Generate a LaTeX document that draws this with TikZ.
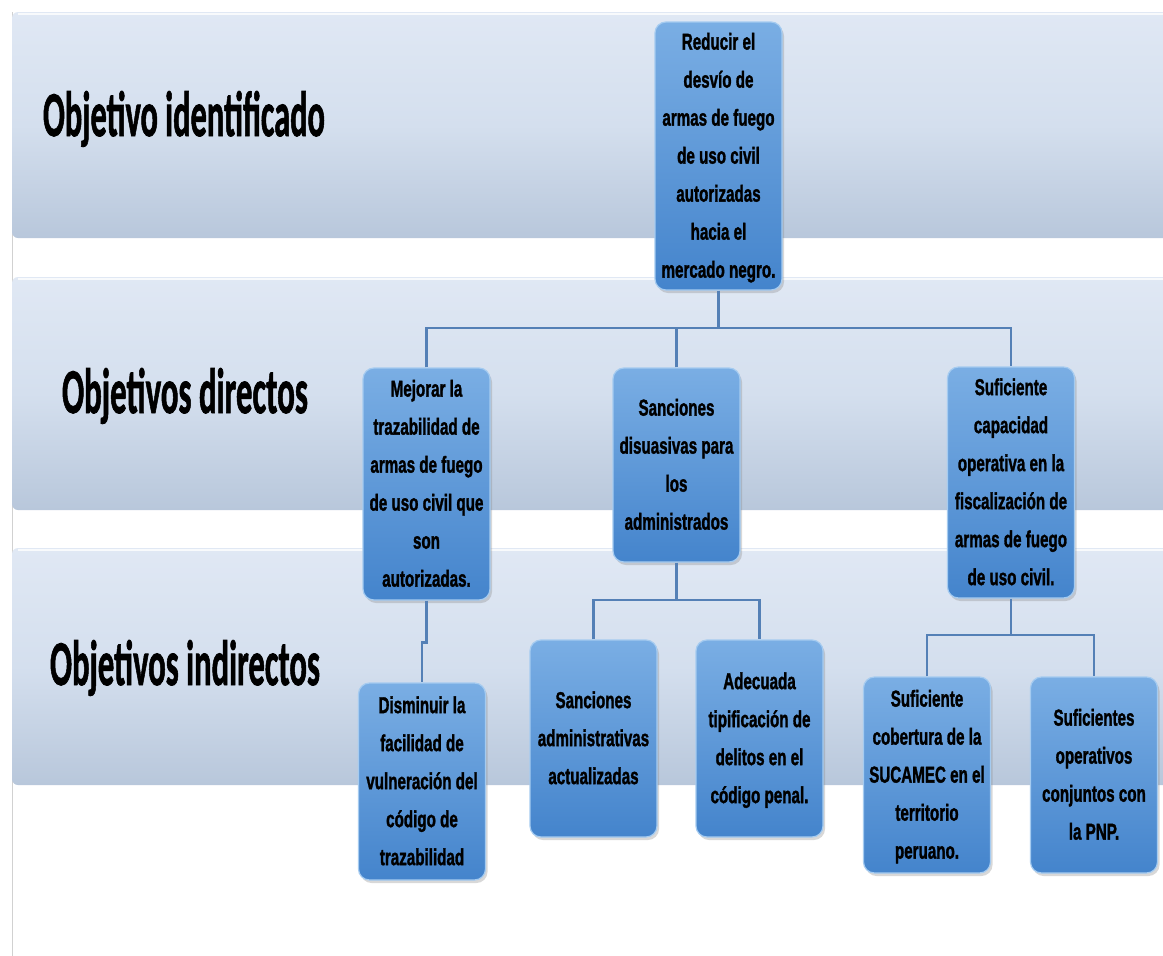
\documentclass[tikz,border=0pt]{standalone}
\usepackage{fontspec}
\usepackage{graphicx}
\usetikzlibrary{shadows,calc}
\newfontfamily\lblfont{Carlito}[BoldFeatures={FakeBold=1.5}]
\newfontfamily\boxfont{Liberation Sans}[BoldFeatures={FakeBold=1.8}]
\definecolor{bandtop}{RGB}{224,232,244}
\definecolor{bandmid}{RGB}{212,223,238}
\definecolor{bandbot}{RGB}{184,199,219}
\definecolor{boxtop}{RGB}{122,174,228}
\definecolor{boxbot}{RGB}{68,132,204}
\definecolor{boxedge}{RGB}{165,203,240}
\definecolor{conncol}{RGB}{84,128,182}
\newcommand{\bt}[1]{\scalebox{0.66}[1]{\boxfont\bfseries\fontsize{23}{38}\selectfont\begin{tabular}{@{}c@{}}#1\end{tabular}}}
\newcommand{\lbl}[2]{\resizebox{#1}{\height}{\lblfont\bfseries\fontsize{64}{64}\selectfont #2}}
\tikzset{
  objbox/.style={draw=boxedge, line width=1.2pt, rounded corners=11pt,
    top color=boxtop, bottom color=boxbot, inner sep=0pt,
    minimum width=127pt, text=black,
    drop shadow={opacity=0.3, shadow xshift=2pt, shadow yshift=-3pt}},
  band/.style={rounded corners=6pt, top color=bandtop, bottom color=bandbot, middle color=bandmid},
  conn/.style={draw=conncol, line width=2.5pt},
  lbltext/.style={anchor=base, inner sep=0pt, text=black}
}
\begin{document}
\begin{tikzpicture}[x=1pt, y=-1pt]
\useasboundingbox (0,0) rectangle (1163,956);
\fill[white] (0,0) rectangle (1163,956);
% left thin line
\draw[black!18, line width=0.8pt] (12,12) -- (12,956);
% bands
\shade[band] (12,12) rectangle (1170,238);
\shade[band] (12,277) rectangle (1170,510);
\shade[band] (12,548) rectangle (1170,785);
\draw[white, line width=2pt, opacity=0.8] (18,14) -- (1163,14);
\draw[white, line width=2pt, opacity=0.8] (18,279) -- (1163,279);
\draw[white, line width=2pt, opacity=0.8] (18,550) -- (1163,550);

% band labels
\node[lbltext] (l1) at (184,136) {\lbl{282pt}{Objetivo identificado}};
\node[lbltext] (l2) at (185,413) {\lbl{246pt}{Objetivos directos}};
\node[lbltext] (l3) at (185,685) {\lbl{270pt}{Objetivos indirectos}};

% boxes
\node[objbox, minimum height=268pt] (top) at (718.5,156) {\bt{Reducir el\\desvío de\\armas de fuego\\de uso civil\\autorizadas\\hacia el\\mercado negro.}};
\node[objbox, minimum height=232pt] (d1) at (426.5,484) {\bt{Mejorar la\\trazabilidad de\\armas de fuego\\de uso civil que\\son\\autorizadas.}};
\node[objbox, minimum height=194pt] (d2) at (676.5,465) {\bt{Sanciones\\disuasivas para\\los\\administrados}};
\node[objbox, minimum height=231pt] (d3) at (1011,482.5) {\bt{Suficiente\\capacidad\\operativa en la\\fiscalización de\\armas de fuego\\de uso civil.}};
\node[objbox, minimum height=197pt] (i1) at (422,781.5) {\bt{Disminuir la\\facilidad de\\vulneración del\\código de\\trazabilidad}};
\node[objbox, minimum height=197pt] (i2) at (593.5,738.5) {\bt{Sanciones\\administrativas\\actualizadas}};
\node[objbox, minimum height=197pt] (i3) at (759.5,738.5) {\bt{Adecuada\\tipificación de\\delitos en el\\código penal.}};
\node[objbox, minimum height=196pt] (i4) at (927,775) {\bt{Suficiente\\cobertura de la\\SUCAMEC en el\\territorio\\peruano.}};
\node[objbox, minimum height=196pt] (i5) at (1094,775) {\bt{Suficientes\\operativos\\conjuntos con\\la PNP.}};

% connectors
\coordinate (bus1) at (0,328);
\coordinate (bus2) at (0,600);
\coordinate (bus3) at (0,635);
\draw[conn] (top.south) -- (top.south |- bus1);
\draw[conn] (d1.north) -- (d1.north |- bus1) -- (d3.north |- bus1) -- (d3.north);
\draw[conn] (d2.north) -- (d2.north |- bus1);
\draw[conn] (d2.south) -- (d2.south |- bus2);
\draw[conn] (i2.north) -- (i2.north |- bus2) -- (i3.north |- bus2) -- (i3.north);
\draw[conn] (d1.south) -- ++(0,42) -| (i1.north);
\draw[conn] (d3.south) -- (d3.south |- bus3);
\draw[conn] (i4.north) -- (i4.north |- bus3) -- (i5.north |- bus3) -- (i5.north);
\end{tikzpicture}
\end{document}
